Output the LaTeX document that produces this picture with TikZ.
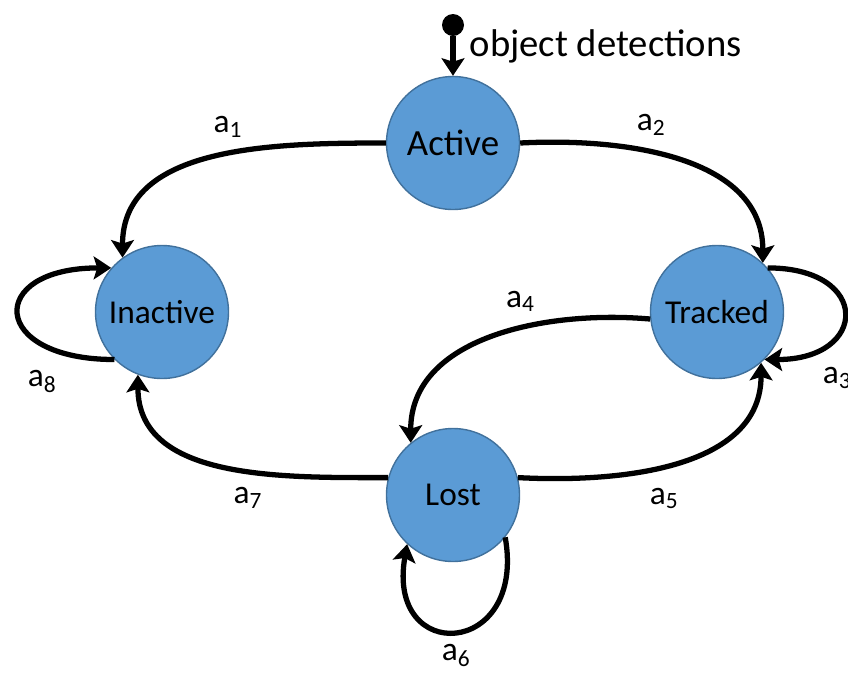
\documentclass[tikz,border=0pt]{standalone}
\usepackage{fontspec}
\setmainfont{Carlito}
\usepackage{xcolor}
\usetikzlibrary{positioning, arrows.meta}
\definecolor{statefill}{RGB}{91,155,213}
\definecolor{stateline}{RGB}{65,113,156}
\tikzstyle{state} = [circle, minimum size=2.66cm, inner sep=0pt, fill=statefill, draw=stateline, line width=0.8pt, font=\fontsize{19}{22}\selectfont]
\tikzstyle{arrow} = [line width=3pt, -{Stealth[length=10pt, width=13pt, inset=2pt]}]
\tikzstyle{lbl} = [font=\fontsize{19}{22}\selectfont, inner sep=2pt]

\begin{document}
\begin{tikzpicture}[on grid]
\useasboundingbox (0,0) rectangle (16.96,-13.44);

\node (active) [state, font=\fontsize{21}{24}\selectfont] at (9.06,-2.86) {Active};
\node (inactive) [state, below left=3.38cm and 5.82cm of active] {Inactive};
\node (tracked) [state, below right=3.38cm and 5.28cm of active] {Tracked};
\node (lost) [state, below=7.04cm of active] {Lost};
\node (init) [circle, fill=black, minimum size=0.44cm, inner sep=0pt, above=2.36cm of active] {};

\draw [arrow] (init) -- node[lbl, right=6pt, pos=0.25, font=\fontsize{22}{26}\selectfont] {object detections} (active);
\draw [arrow] (active.180) to[out=180, in=90] node[lbl, above=6pt, pos=0.45] {a\textsubscript{1}} (inactive.126);
\draw [arrow] (active.0) to[out=3, in=90] node[lbl, above=6pt, pos=0.4] {a\textsubscript{2}} (tracked.47);
\draw [arrow] (tracked.41) to[out=0, in=0, looseness=2.9] node[lbl, below right=4pt and 7pt, pos=0.85] {a\textsubscript{3}} (tracked.-45);
\draw [arrow] (tracked.186) to[out=175, in=90] node[lbl, above=6pt, pos=0.4] {a\textsubscript{4}} (lost.129);
\draw [arrow] (lost.15) to[out=-3, in=-90] node[lbl, below=9pt, pos=0.45] {a\textsubscript{5}} (tracked.-49);
\draw [arrow] (lost.-39) to[out=-80, in=-100, looseness=3.2] node[lbl, below=4pt, pos=0.5] {a\textsubscript{6}} (lost.-133);
\draw [arrow] (lost.165) to[out=180, in=-90] node[lbl, below=6pt, pos=0.42] {a\textsubscript{7}} (inactive.249);
\draw [arrow] (inactive.225) to[out=180, in=180, looseness=3.5] node[lbl, below left=6pt and 2pt, pos=0.15] {a\textsubscript{8}} (inactive.139);

\end{tikzpicture}
\end{document}
